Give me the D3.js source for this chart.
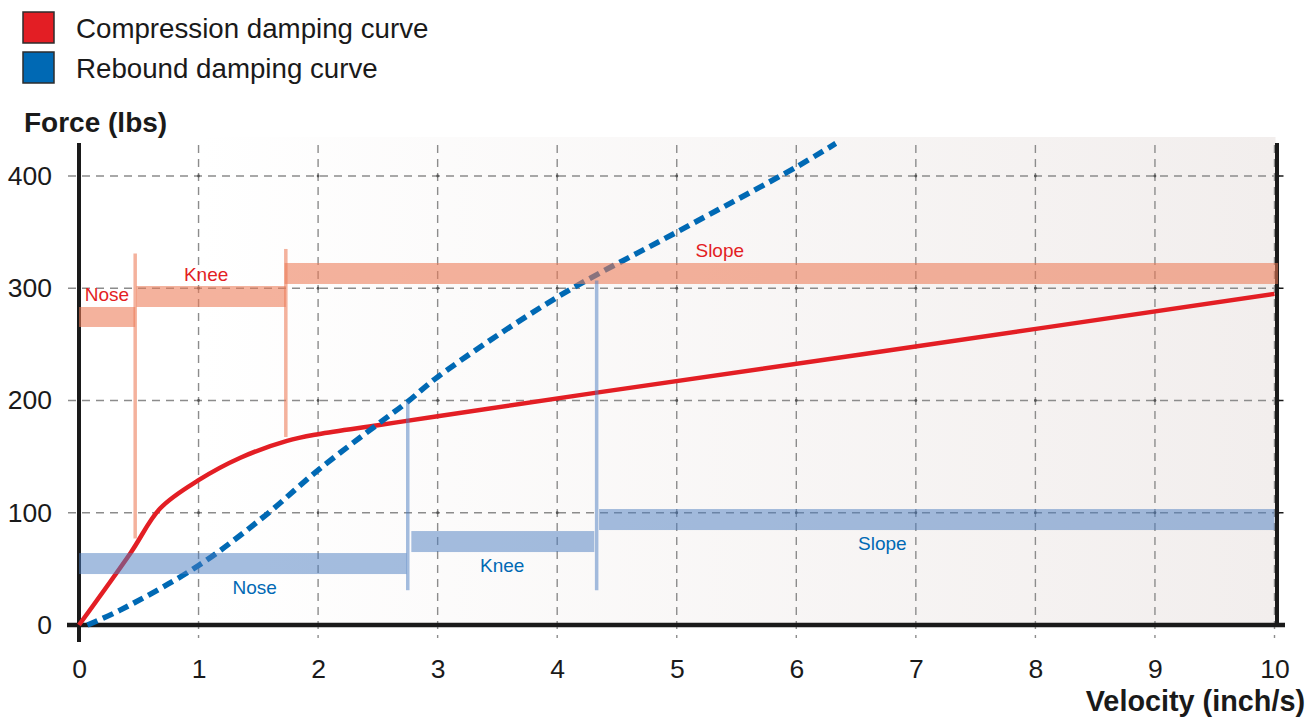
<!DOCTYPE html>
<html>
<head>
<meta charset="utf-8">
<script src="https://cdn.jsdelivr.net/npm/d3@7"></script>
<style>
  html, body { margin: 0; padding: 0; background: #ffffff; }
  svg { display: block; font-family: "Liberation Sans", Arial, sans-serif; }
</style>
</head>
<body>
<svg id="chart" width="1309" height="717"></svg>
<script>
// ---------------- DATA ----------------
const seriesNames = ["Compression damping curve", "Rebound damping curve"];
const xTicks = [0, 1, 2, 3, 4, 5, 6, 7, 8, 9, 10];
const yTicks = [0, 100, 200, 300, 400];

// compression damping curve (velocity inch/s, force lbs)
const compressionV = [0, 0.43, 0.68, 1.0, 1.35, 1.74, 2.0, 2.5, 3.0, 4.33, 6.54, 10];
const compressionF = [0, 64, 104, 129, 149, 164, 170, 178, 186, 207, 241, 295];

// rebound damping curve
const reboundV = [0.07, 0.34, 1.0, 1.54, 2.0, 2.5, 2.75, 3.0, 4.0, 5.0, 6.0, 6.33];
const reboundF = [0, 13, 53, 96, 138, 179, 199, 221, 292, 350, 408, 429];

// adjustment range bands: [v0, v1, fLow, fHigh, labelV]
const bandNames = ["Nose", "Knee", "Slope"];
const compressionBands = [
  [0.0, 0.47, 265.5, 283.3, 0.234],
  [0.48, 1.73, 283.3, 302.0, 1.063],
  [1.72, 10.03, 303.8, 322.5, 5.36]
];
const reboundBands = [
  [0.0, 2.74, 45.4, 64.1, 1.47],
  [2.78, 4.31, 65.0, 83.7, 3.54],
  [4.35, 10.0, 84.6, 103.3, 6.72]
];
// separators: [v, fLow, fHigh]
const compressionSeps = [[0.47, 77, 331], [1.73, 167.5, 335]];
const reboundSeps = [[2.75, 31, 199], [4.33, 31, 307]];

// ---------------- CHART ----------------
const svg = d3.select("#chart");
const x = d3.scaleLinear().domain([0, 10]).range([79, 1274.5]);
const y = d3.scaleLinear().domain([0, 400]).range([625, 176]);

const RED = "#e31e24", BLUE = "#0069b4";
const FONT = "'Liberation Sans', Arial, sans-serif";

// background gradient
const defs = svg.append("defs");
const grad = defs.append("linearGradient").attr("id", "bg").attr("x1", "0").attr("x2", "1").attr("y1", "0").attr("y2", "0");
grad.append("stop").attr("offset", "0").attr("stop-color", "#ffffff");
grad.append("stop").attr("offset", "0.1").attr("stop-color", "#ffffff");
grad.append("stop").attr("offset", "1").attr("stop-color", "#f2eeed");
svg.append("rect")
  .attr("x", x(0)).attr("y", 137)
  .attr("width", x(10) - x(0) + 1).attr("height", y(0) - 137)
  .attr("fill", "url(#bg)");

// grid
const grid = svg.append("g").attr("stroke", "#8c8c8c").attr("stroke-width", 1.4).attr("stroke-dasharray", "8,6");
grid.selectAll("line.v").data(xTicks.filter(d => d > 0)).join("line")
  .attr("x1", d => x(d)).attr("x2", d => x(d))
  .attr("y1", 145).attr("y2", 638);
grid.selectAll("line.h").data(yTicks.filter(d => d > 0)).join("line")
  .attr("x1", 68).attr("x2", 1283)
  .attr("y1", d => y(d)).attr("y2", d => y(d));

// intersection dots
const dots = [];
xTicks.filter(d => d > 0 && d < 10).forEach(a => yTicks.filter(b => b > 0).forEach(b => dots.push([a, b])));
svg.append("g").selectAll("circle").data(dots).join("circle")
  .attr("cx", d => x(d[0])).attr("cy", d => y(d[1])).attr("r", 1.4).attr("fill", "#555");

// axes lines
const axes = svg.append("g").attr("stroke", "#1a1a1a");
axes.append("line").attr("x1", x(0)).attr("x2", x(0)).attr("y1", 143).attr("y2", 642).attr("stroke-width", 4);
axes.append("line").attr("x1", 67).attr("x2", 1285).attr("y1", y(0)).attr("y2", y(0)).attr("stroke-width", 4.5);
axes.append("line").attr("x1", x(10) + 2.5).attr("x2", x(10) + 2.5).attr("y1", 143).attr("y2", y(0)).attr("stroke-width", 4);
axes.selectAll("line.rt").data(yTicks.filter(d => d > 0)).join("line")
  .attr("x1", x(10) + 3).attr("x2", x(10) + 9)
  .attr("y1", d => y(d)).attr("y2", d => y(d)).attr("stroke-width", 1.5);

// tick labels via d3 axes
const xAxis = svg.append("g").attr("transform", `translate(0,${y(0)})`)
  .call(d3.axisBottom(x).tickValues(xTicks).tickSize(0).tickPadding(34.5).tickFormat(d3.format("d")));
const yAxis = svg.append("g").attr("transform", `translate(${x(0)},0)`)
  .call(d3.axisLeft(y).tickValues(yTicks).tickSize(0).tickPadding(27).tickFormat(d3.format("d")));
[xAxis, yAxis].forEach(g => {
  g.select(".domain").remove();
  g.selectAll("text").attr("font-family", FONT).attr("font-size", 26.5).attr("fill", "#1a1a1a");
});

// curves
const line = d3.line().x(d => x(d[0])).y(d => y(d[1])).curve(d3.curveCatmullRom.alpha(0.5));
svg.append("path")
  .datum(compressionV.map((v, i) => [v, compressionF[i]]))
  .attr("d", line).attr("fill", "none").attr("stroke", RED).attr("stroke-width", 4.5)
  .attr("stroke-linejoin", "round");
svg.append("path")
  .datum(reboundV.map((v, i) => [v, reboundF[i]]))
  .attr("d", line).attr("fill", "none").attr("stroke", BLUE).attr("stroke-width", 5.5)
  .attr("stroke-dasharray", "11,6");

// bands
function drawBands(bands, seps, color, opacity, labelColor, above) {
  const g = svg.append("g");
  g.selectAll("rect").data(bands).join("rect")
    .attr("x", d => x(d[0])).attr("width", d => x(d[1]) - x(d[0]))
    .attr("y", d => y(d[3])).attr("height", d => y(d[2]) - y(d[3]))
    .attr("fill", color).attr("fill-opacity", opacity);
  g.selectAll("line").data(seps).join("line")
    .attr("x1", d => x(d[0])).attr("x2", d => x(d[0]))
    .attr("y1", d => y(d[1])).attr("y2", d => y(d[2]))
    .attr("stroke", color).attr("stroke-opacity", opacity).attr("stroke-width", 3.5);
  g.selectAll("text").data(bands).join("text")
    .attr("x", d => x(d[4]))
    .attr("y", d => above ? y(d[3]) - 5.5 : y(d[2]) + 20)
    .attr("text-anchor", "middle")
    .attr("font-family", FONT).attr("font-size", 19)
    .attr("fill", labelColor)
    .text((d, i) => bandNames[i]);
}
drawBands(compressionBands, compressionSeps, "#ec7a56", 0.58, RED, true);
drawBands(reboundBands, reboundSeps, "#4a7cbf", 0.5, BLUE, false);

// legend
const legend = svg.append("g");
const legendColors = [RED, BLUE];
legend.selectAll("rect").data(seriesNames).join("rect")
  .attr("x", 23).attr("y", (d, i) => 12 + i * 40).attr("width", 31).attr("height", 31)
  .attr("fill", (d, i) => legendColors[i]).attr("stroke", "#2d2d2d").attr("stroke-width", 1.5);
legend.selectAll("text").data(seriesNames).join("text")
  .attr("x", 76).attr("y", (d, i) => 38 + i * 40)
  .attr("font-family", FONT).attr("font-size", 27.7).attr("fill", "#1a1a1a")
  .text(d => d);

// axis titles
svg.append("text").attr("x", 24).attr("y", 131.5)
  .attr("font-family", FONT).attr("font-size", 28).attr("font-weight", "bold").attr("fill", "#1a1a1a")
  .text("Force (lbs)");
svg.append("text").attr("x", 1305).attr("y", 711).attr("text-anchor", "end")
  .attr("font-family", FONT).attr("font-size", 28.8).attr("font-weight", "bold").attr("fill", "#1a1a1a")
  .text("Velocity (inch/s)");
</script>
</body>
</html>
